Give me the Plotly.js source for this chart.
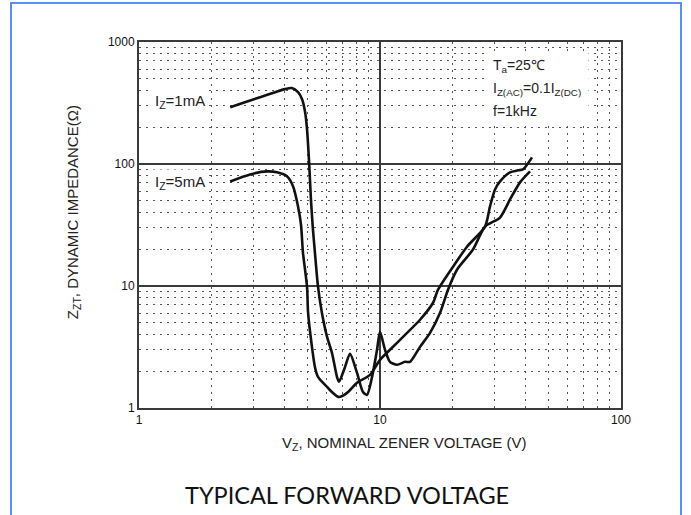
<!DOCTYPE html>
<html>
<head>
<meta charset="utf-8">
<script src="https://cdn.plot.ly/plotly-3.0.1.min.js"></script>
<style>
  html, body { margin: 0; padding: 0; background: #fff; }
  #wrap { position: relative; width: 691px; height: 515px; overflow: hidden; }
  #chart { position: absolute; left: 0; top: 0; width: 691px; height: 515px; }
  #frame { position: absolute; left: 10px; top: 2px; width: 672px; height: 560px;
           border: 2px solid #5b8ef0; pointer-events: none; box-sizing: border-box; }
</style>
</head>
<body>
<div id="wrap">
  <div id="chart"></div>
  <div id="frame"></div>
</div>
<script>
// Nominal zener voltage (V) and dynamic impedance (ohm)
const vz1mA  = [2.39, 2.75, 3.18, 3.67, 4.03, 4.31, 4.57, 4.75, 4.89, 4.98, 5.08, 5.17, 5.27, 5.37, 5.53, 5.74, 6.03, 6.32, 6.63, 6.76, 7.16, 7.51, 8.03, 8.50, 8.83, 9.27, 9.72, 10.0, 10.49, 11.0, 11.77, 12.70, 13.32, 14.66, 16.13, 17.75, 19.15, 20.87, 24.31, 27.28, 31.48, 34.63, 38.10, 41.93];
const zzt1mA = [292, 321, 353, 388, 411, 419, 388, 340, 266, 193, 103, 51.2, 29.0, 18.8, 9.87, 6.04, 3.83, 2.83, 1.80, 1.64, 2.17, 2.78, 1.94, 1.35, 1.28, 1.80, 3.00, 4.21, 3.00, 2.39, 2.26, 2.39, 2.39, 3.17, 4.13, 6.04, 9.33, 13.6, 19.9, 30.7, 36.4, 51.2, 70.7, 87.0];

const vz5mA  = [2.39, 2.89, 3.40, 3.74, 4.11, 4.36, 4.57, 4.70, 4.79, 4.98, 5.03, 5.22, 5.37, 5.53, 6.03, 6.38, 6.76, 7.30, 8.03, 9.09, 10.0, 11.0, 12.46, 14.66, 16.60, 17.41, 20.10, 22.96, 27.28, 28.60, 30.01, 31.48, 34.63, 37.38, 39.21, 42.73];
const zzt5mA = [72.0, 82.2, 87.0, 85.4, 79.2, 65.5, 44.9, 31.9, 18.8, 9.87, 6.04, 3.17, 2.17, 1.80, 1.49, 1.33, 1.23, 1.33, 1.61, 1.87, 2.48, 3.00, 3.83, 5.29, 7.29, 9.33, 14.4, 21.0, 30.7, 44.9, 61.9, 72.0, 85.4, 88.7, 90.4, 113.4];

const seriesLabels = ['I<sub>Z</sub>=1mA', 'I<sub>Z</sub>=5mA'];
const conditionLines = ['T<sub>a</sub>=25℃', 'I<sub>Z(AC)</sub>=0.1I<sub>Z(DC)</sub>', 'f=1kHz'];
const xTitle = 'V<sub>Z</sub>, NOMINAL ZENER VOLTAGE (V)';
const yTitle = 'Z<sub>ZT</sub>, DYNAMIC IMPEDANCE(Ω)';
const chartTitle = 'TYPICAL FORWARD VOLTAGE';

const lineStyle = {color: '#111', width: 2.6, shape: 'spline', smoothing: 0.7};
const traces = [
  {x: vz1mA, y: zzt1mA, type: 'scatter', mode: 'lines', line: lineStyle, name: '1mA', hoverinfo: 'x+y'},
  {x: vz5mA, y: zzt5mA, type: 'scatter', mode: 'lines', line: lineStyle, name: '5mA', hoverinfo: 'x+y'}
];

const sans = 'Liberation Sans, Arial, sans-serif';
const tickFont = {family: sans, size: 12, color: '#111'};
const minorGrid = {dtick: 'D1', showgrid: true, gridcolor: '#555', gridwidth: 1, griddash: '2px,5px', ticks: ''};
function axis(range) {
  return {
    type: 'log', range: range, dtick: 1, tick0: 0, exponentformat: 'none',
    showgrid: true, gridcolor: '#3a3a3a', gridwidth: 1.4,
    ticks: '', showline: true, mirror: true, linecolor: '#3a3a3a', linewidth: 2,
    tickfont: tickFont, zeroline: false, minor: minorGrid, fixedrange: true
  };
}

const labelFont = {family: sans, size: 15, color: '#222'};
const condFont = {family: sans, size: 14, color: '#222'};
const annotations = [
  {xref: 'paper', yref: 'paper', x: 0.025, y: 0.838, xanchor: 'left', yanchor: 'middle', text: seriesLabels[0], showarrow: false, font: labelFont, bgcolor: '#fff', borderpad: 3},
  {xref: 'paper', yref: 'paper', x: 0.025, y: 0.616, xanchor: 'left', yanchor: 'middle', text: seriesLabels[1], showarrow: false, font: labelFont, bgcolor: '#fff', borderpad: 3},
  {xref: 'paper', yref: 'paper', x: 0.723, y: 0.934, xanchor: 'left', yanchor: 'middle', text: conditionLines[0], showarrow: false, font: condFont, bgcolor: '#fff', borderpad: 5, width: 90, align: 'left'},
  {xref: 'paper', yref: 'paper', x: 0.723, y: 0.871, xanchor: 'left', yanchor: 'middle', text: conditionLines[1], showarrow: false, font: condFont, bgcolor: '#fff', borderpad: 5, width: 90, align: 'left'},
  {xref: 'paper', yref: 'paper', x: 0.723, y: 0.811, xanchor: 'left', yanchor: 'middle', text: conditionLines[2], showarrow: false, font: condFont, bgcolor: '#fff', borderpad: 5, width: 90, align: 'left'},
  {xref: 'paper', yref: 'paper', x: 0.55, y: -0.096, xanchor: 'center', yanchor: 'middle', text: xTitle, showarrow: false, font: {family: sans, size: 15, color: '#222'}},
  {xref: 'paper', yref: 'paper', x: -0.137, y: 0.535, xanchor: 'center', yanchor: 'middle', text: yTitle, textangle: -90, showarrow: false, font: {family: sans, size: 15, color: '#222'}},
  {xref: 'paper', yref: 'paper', x: 0.4305, y: -0.238, xanchor: 'center', yanchor: 'middle', text: chartTitle, showarrow: false, font: {family: 'Lato, Open Sans, sans-serif', size: 23.5, color: '#111'}}
];

const layout = {
  width: 691, height: 515,
  margin: {l: 139, r: 70, t: 42, b: 107},
  paper_bgcolor: '#fff', plot_bgcolor: '#fff',
  showlegend: false,
  xaxis: axis([0, 2]),
  yaxis: axis([0, 3]),
  annotations: annotations
};

Plotly.newPlot('chart', traces, layout, {displayModeBar: false, staticPlot: true});
</script>
</body>
</html>
